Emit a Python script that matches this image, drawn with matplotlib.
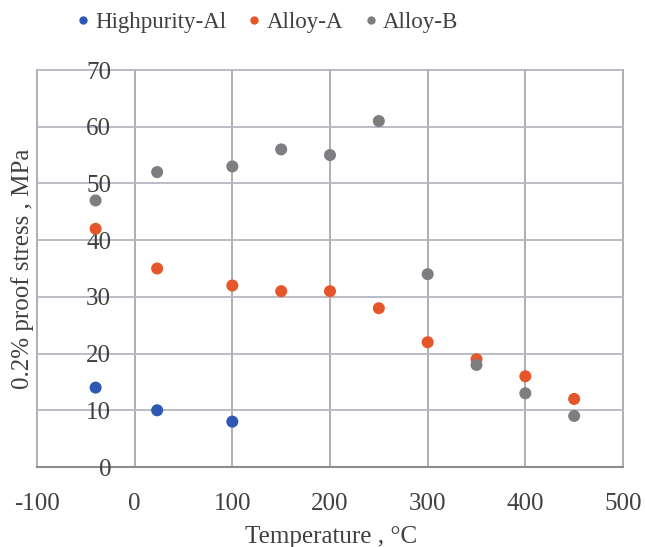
import matplotlib
matplotlib.use("Agg")
import matplotlib.pyplot as plt
from matplotlib.lines import Line2D

plt.rcParams['font.family'] = ['Liberation Serif', 'DejaVu Serif']
plt.rcParams['axes.unicode_minus'] = False

# Data
hp_temp = [-40, 23, 100]
hp_stress = [14, 10, 8]
a_temp = [-40, 23, 100, 150, 200, 250, 300, 350, 400, 450]
a_stress = [42, 35, 32, 31, 31, 28, 22, 19, 16, 12]
b_temp = [-40, 23, 100, 150, 200, 250, 300, 350, 400, 450]
b_stress = [47, 52, 53, 56, 55, 61, 34, 18, 13, 9]
series_names = ["Highpurity-Al", "Alloy-A", "Alloy-B"]
colors = ["#2E58B4", "#E5572A", "#7D7D82"]
x_ticks = [-100, 0, 100, 200, 300, 400, 500]
y_ticks = [0, 10, 20, 30, 40, 50, 60, 70]

fig = plt.figure(figsize=(6.45, 5.47), dpi=100)
ax = fig.add_axes([37/645, 1-467/547, (623-37)/645, (467-70)/547])

txt = "#404040"
ax.set_xlim(-100, 500)
ax.set_ylim(0, 70)

# grid lines
for xv in x_ticks:
    ax.axvline(xv, color="#A8A8A8", lw=1.3, zorder=1, clip_on=False)
for yv in y_ticks[1:]:
    ax.axhline(yv, color="#B4B8C2", lw=1.3, zorder=1, clip_on=False)
ax.axhline(0, color="#8C8C8C", lw=1.5, zorder=1, clip_on=False)

for sp in ax.spines.values():
    sp.set_visible(False)
ax.spines['left'].set_position(('data', 0))

ax.set_xticks(x_ticks)
ax.set_yticks(y_ticks)
ax.tick_params(axis='both', length=0, labelsize=18, labelcolor=txt)
ax.tick_params(axis='x', pad=19)
ax.tick_params(axis='y', pad=17)

for xs, ys, c, n in zip([hp_temp, a_temp, b_temp], [hp_stress, a_stress, b_stress], colors, series_names):
    ax.scatter(xs, ys, s=75, color=c, zorder=3, label=n, edgecolors='none')

ax.set_xlabel("Temperature , \u00b0C", fontsize=18, color=txt)
ax.set_ylabel("0.2% proof stress , MPa", fontsize=18, color=txt)
ax.yaxis.set_label_coords((23-37)/586, 0.5)
ax.xaxis.set_label_coords((331-37)/586, -(537-467)/397)
ax.xaxis.label.set_va('center')
ax.yaxis.label.set_va('center')

handles = [Line2D([], [], ls='none', marker='o', markersize=6, color=c, markeredgewidth=0) for c in colors]
fig.legend(handles, series_names, loc='center', bbox_to_anchor=(266/645, 1-22/547), ncol=3,
           frameon=False, fontsize=16.5, handletextpad=0.15, columnspacing=0.8, labelcolor=txt,
           handlelength=0.8)

fig.savefig("out.png", dpi=100)
